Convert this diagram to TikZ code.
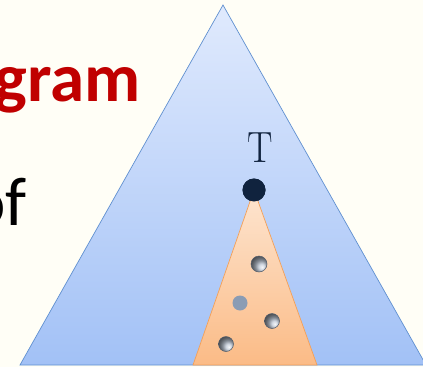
\documentclass[tikz,border=0pt]{standalone}
\usepackage[no-math]{fontspec}
\setmainfont{Carlito}
\usetikzlibrary{positioning}
\definecolor{paper}{RGB}{255,254,246}
\definecolor{skytop}{RGB}{224,234,253}
\definecolor{skybot}{RGB}{162,193,246}
\definecolor{skyline}{RGB}{96,144,208}
\definecolor{peachtop}{RGB}{253,229,208}
\definecolor{peachbot}{RGB}{251,187,134}
\definecolor{peachline}{RGB}{244,160,88}
\definecolor{navy}{RGB}{16,35,62}
\definecolor{titlered}{RGB}{192,0,0}
\definecolor{pebble}{RGB}{138,156,180}

\begin{document}
\begin{tikzpicture}[x=1pt,y=-1pt,
  ball/.style={circle,inner sep=0pt,minimum size=16pt,draw=pebble!60!black,line width=.5pt,ball color=pebble!55!white,shading angle=180},
  flatball/.style={circle,inner sep=0pt,minimum size=15pt,fill=pebble},
  bigtext/.style={anchor=base east,inner sep=0pt,font=\fontsize{69}{69}\selectfont}]

\useasboundingbox[fill=paper](0,0)rectangle(423,367);
% outer tree and the subtree below T
\draw[draw=skyline,line width=.7pt,top color=skytop,bottom color=skybot](223,5)--(426,365)--(20,365)--cycle;
\node[circle,fill=navy,inner sep=0pt,minimum size=23pt] (root) at (254,190) {};
\draw[draw=peachline,line width=.7pt,top color=peachtop,bottom color=peachbot](root.center)--(317,365)--(193,365)--cycle;
\node[circle,fill=navy,inner sep=0pt,minimum size=23pt] at (root) {};
\node[text=navy,inner sep=0pt,yscale=1.15,font=\fontfamily{lmr}\fontsize{38}{38}\selectfont] (rootlabel) at (260,148) {T};

\node[ball] (b1) at (259,264) {};
\node[flatball] (b2) at (240,303) {};
\node[ball,minimum size=15pt] (b3) at (272,321) {};
\node[ball,minimum size=15pt] (b4) at (226,344) {};

\node[bigtext,text=titlered,font=\fontsize{69}{69}\selectfont\bfseries] (title) at (141,101) {gram};
\node[bigtext] (word) at (27,225) {of};
\end{tikzpicture}
\end{document}
